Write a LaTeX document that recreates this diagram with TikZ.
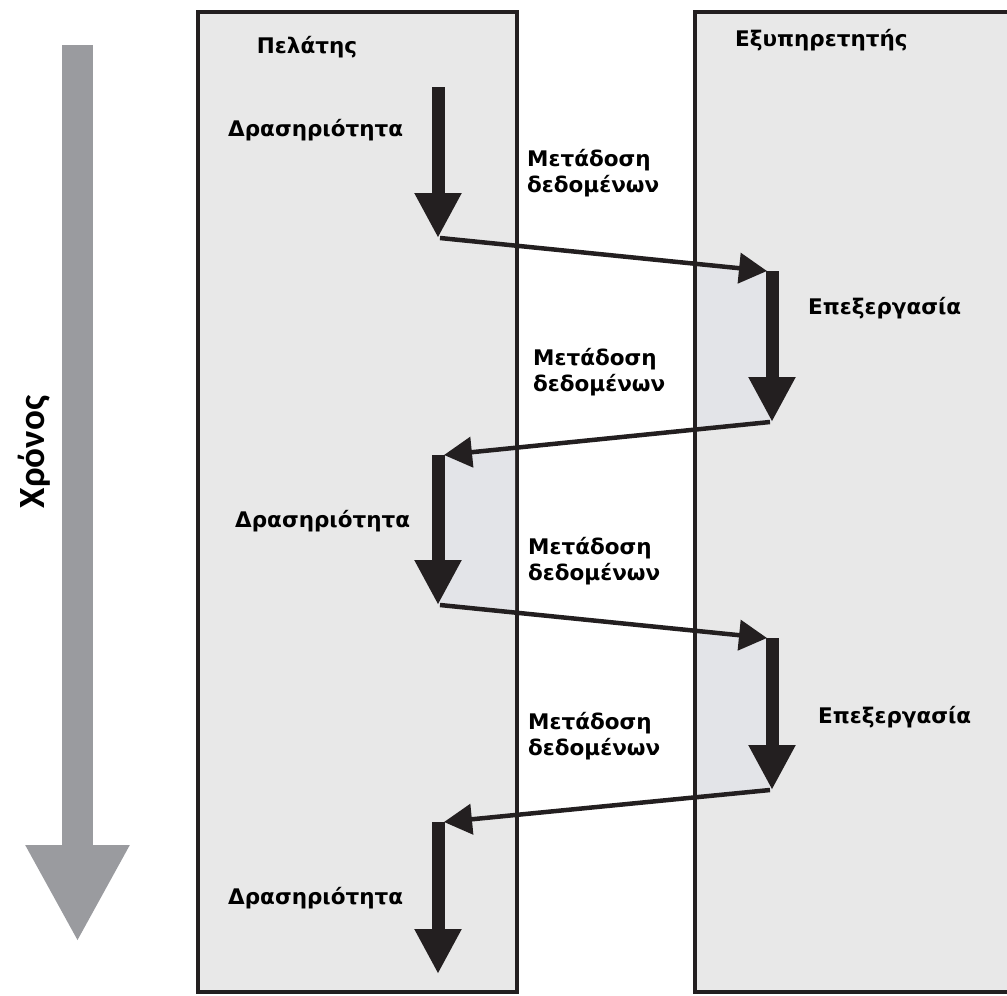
\documentclass[tikz,border=0pt]{standalone}
\usepackage{fontspec}
\usetikzlibrary{arrows.meta}
\newfontfamily\lblfont{DejaVu Sans}
\newfontfamily\timefont{Carlito}[BoldFont={Carlito Bold}]
\definecolor{ink}{HTML}{231F20}
\definecolor{panelgray}{HTML}{E8E8E8}
\definecolor{zonegray}{HTML}{E3E4E8}
\definecolor{timegray}{HTML}{9A9B9F}
\tikzset{
  panel/.style={draw=ink, fill=panelgray, line width=4.5pt},
  zone/.style={fill=zonegray},
  work/.style={draw=ink, line width=13pt, -{Triangle[length=45pt,width=44pt]}},
  transfer/.style={draw=ink, line width=4.5pt, -{Triangle[length=28pt,width=30pt]}},
  lbl/.style={font=\lblfont\bfseries\fontsize{21.5}{25.5}\selectfont, text=black, inner sep=0pt, align=left},
  timelbl/.style={font=\timefont\bfseries\fontsize{37}{42}\selectfont, text=black, inner sep=0pt}
}
\begin{document}
\begin{tikzpicture}[x=1pt, y=-1pt]
\useasboundingbox (0,0) rectangle (1007,996);

% client and server columns
\draw[panel] (198,12) rectangle (517,992);
\draw[panel] (695,12) rectangle (1020,992);

% activity / processing steps
\coordinate (a1s) at (438,87);   \coordinate (a1e) at (438,238);
\coordinate (p1s) at (772,271);  \coordinate (p1e) at (772,422);
\coordinate (a2s) at (438,455);  \coordinate (a2e) at (438,605);
\coordinate (p2s) at (772,638);  \coordinate (p2e) at (772,790);
\coordinate (a3s) at (438,822);  \coordinate (a3e) at (438,974);
% ends of the transfer lines
\coordinate (t1s) at (440,238);  \coordinate (t1e) at (767,271);
\coordinate (t2s) at (770,422);  \coordinate (t2e) at (444,455);
\coordinate (t3s) at (440,605);  \coordinate (t3e) at (767,638);
\coordinate (t4s) at (770,790);  \coordinate (t4e) at (444,822);

% lightly tinted zones beside the steps
\begin{scope}
  \clip (697,14) rectangle (1020,990);
  \fill[zone] (t1s) -- (p1s) -- (p1e) -- (t2e) -- cycle;
  \fill[zone] (t3s) -- (p2s) -- (p2e) -- (t4e) -- cycle;
\end{scope}
\begin{scope}
  \clip (200,14) rectangle (515,990);
  \fill[zone] (t2s) -- (a2s) -- (a2e) -- (p2s) -- cycle;
\end{scope}

% time axis
\coordinate (time0) at (77.5,45);
\coordinate (time1) at (77.5,942);
\draw[draw=timegray, line width=31pt, -{Triangle[length=97pt,width=97pt]}] (time0) -- (time1);
\node[timelbl, rotate=90] (time) at (34,452) {Χρόνος};

% arrows
\draw[work] (a1s) -- (a1e);
\draw[transfer] (t1s) -- (t1e);
\draw[work] (p1s) -- (p1e);
\draw[transfer] (t2s) -- (t2e);
\draw[work] (a2s) -- (a2e);
\draw[transfer] (t3s) -- (t3e);
\draw[work] (p2s) -- (p2e);
\draw[transfer] (t4s) -- (t4e);
\draw[work] (a3s) -- (a3e);

% labels
\node[lbl] (client) at (307,47) {Πελάτης};
\node[lbl, anchor=west] (server) at (735,40) {Εξυπηρετητής};
\node[lbl, anchor=west] (act1) at (228,130) {Δρασηριότητα};
\node[lbl, anchor=west] (act2) at (235,521) {Δρασηριότητα};
\node[lbl, anchor=west] (act3) at (228,898) {Δρασηριότητα};
\node[lbl, anchor=west] (proc1) at (808,308) {Επεξεργασία};
\node[lbl, anchor=west] (proc2) at (818,717) {Επεξεργασία};
\node[lbl, anchor=west] (tr1) at (527,173) {Μετάδοση\\δεδομένων};
\node[lbl, anchor=west] (tr2) at (533,372) {Μετάδοση\\δεδομένων};
\node[lbl, anchor=west] (tr3) at (528,561) {Μετάδοση\\δεδομένων};
\node[lbl, anchor=west] (tr4) at (528,736) {Μετάδοση\\δεδομένων};
\end{tikzpicture}
\end{document}
